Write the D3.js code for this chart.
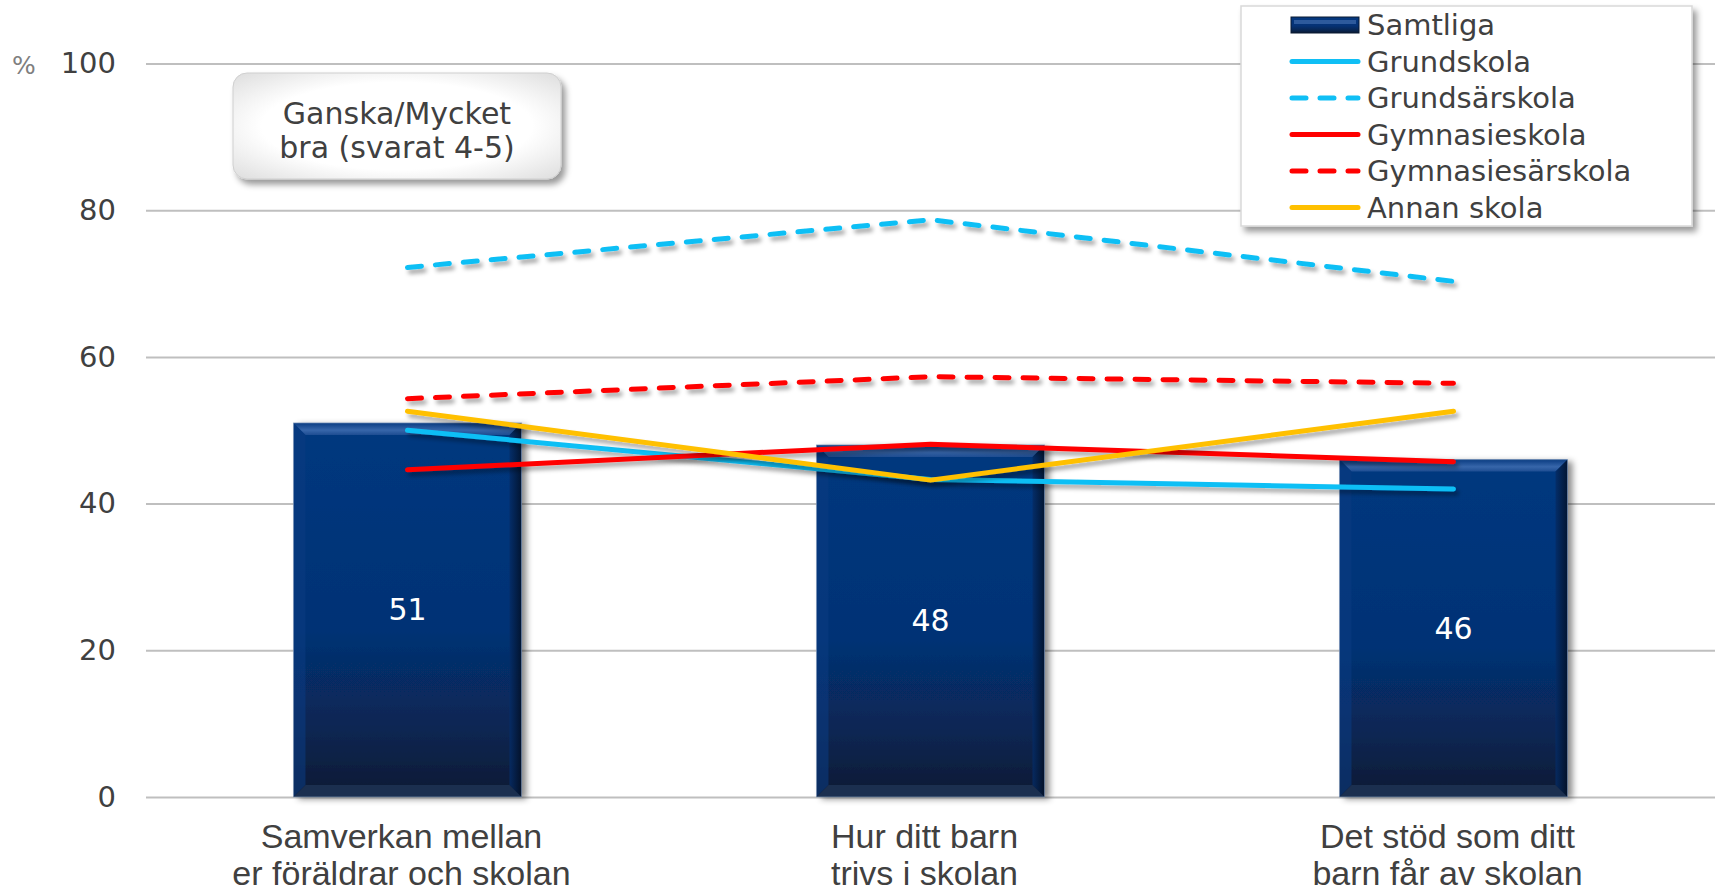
<!DOCTYPE html>
<html>
<head>
<meta charset="utf-8">
<script src="https://cdn.jsdelivr.net/npm/d3@7"></script>
<style>
  body { margin: 0; background: #fff; }
  svg { display: block; font-family: "DejaVu Sans", Verdana, sans-serif; }
</style>
</head>
<body>
<div id="chart"></div>
<script>
// Dades del gràfic
const kategorier = [
  ["Samverkan mellan", "er föräldrar och skolan"],
  ["Hur ditt barn", "trivs i skolan"],
  ["Det stöd som ditt", "barn får av skolan"]
];
const samtliga = [51, 48, 46];
const grundskola = [50.0, 43.3, 42.0];
const grundsarskola = [72.2, 78.7, 70.3];
const gymnasieskola = [44.6, 48.1, 45.7];
const gymnasiesarskola = [54.3, 57.3, 56.4];
const annanSkola = [52.6, 43.2, 52.6];
const yTicks = [0, 20, 40, 60, 80, 100];
const serieNamn = ["Samtliga", "Grundskola", "Grundsärskola", "Gymnasieskola", "Gymnasiesärskola", "Annan skola"];

const linjer = [
  {namn: serieNamn[1], varden: grundskola, farg: "#10bff5", streckad: false},
  {namn: serieNamn[2], varden: grundsarskola, farg: "#10bff5", streckad: true},
  {namn: serieNamn[3], varden: gymnasieskola, farg: "#ff0000", streckad: false},
  {namn: serieNamn[4], varden: gymnasiesarskola, farg: "#ff0000", streckad: true},
  {namn: serieNamn[5], varden: annanSkola, farg: "#ffc000", streckad: false}
];

const W = 1717, H = 892;
const marg = {top: 63.5, left: 146, right: 2, bottom: 95};
const bredd = W - marg.left - marg.right;
const hojd = H - marg.top - marg.bottom;

const svg = d3.select("#chart").append("svg")
  .attr("width", W).attr("height", H);

const defs = svg.append("defs");

// skuggor
const skugga = defs.append("filter").attr("id", "skugga")
  .attr("x", "-10%").attr("y", "-50%").attr("width", "130%").attr("height", "200%");
skugga.append("feDropShadow").attr("dx", 3).attr("dy", 4).attr("stdDeviation", 2.2)
  .attr("flood-color", "#000").attr("flood-opacity", 0.35);

const stapelSkugga = defs.append("filter").attr("id", "stapelSkugga")
  .attr("x", "-10%").attr("y", "-10%").attr("width", "130%").attr("height", "130%");
stapelSkugga.append("feDropShadow").attr("dx", 5).attr("dy", 2).attr("stdDeviation", 3)
  .attr("flood-color", "#000").attr("flood-opacity", 0.45);

const boxSkugga = defs.append("filter").attr("id", "boxSkugga")
  .attr("x", "-10%").attr("y", "-20%").attr("width", "130%").attr("height", "150%");
boxSkugga.append("feDropShadow").attr("dx", 4).attr("dy", 5).attr("stdDeviation", 3)
  .attr("flood-color", "#000").attr("flood-opacity", 0.4);

// gradienter för staplarna
const kropp = defs.append("linearGradient").attr("id", "kropp")
  .attr("x1", 0).attr("y1", 0).attr("x2", 0).attr("y2", 1);
[[0, "#05387f"], [0.55, "#053275"], [0.82, "#082652"], [1, "#0b1a33"]].forEach(([o, c]) =>
  kropp.append("stop").attr("offset", o).attr("stop-color", c));

const topp = defs.append("linearGradient").attr("id", "topp")
  .attr("x1", 0).attr("y1", 0).attr("x2", 0).attr("y2", 1);
[[0, "#0a3c82"], [0.6, "#3766aa"], [1, "#1e4d92"]].forEach(([o, c]) =>
  topp.append("stop").attr("offset", o).attr("stop-color", c));

const hoger = defs.append("linearGradient").attr("id", "hoger")
  .attr("x1", 0).attr("y1", 0).attr("x2", 1).attr("y2", 0);
[[0, "#052c66"], [1, "#020f25"]].forEach(([o, c]) =>
  hoger.append("stop").attr("offset", o).attr("stop-color", c));

const boxFyll = defs.append("radialGradient").attr("id", "boxFyll")
  .attr("cx", "50%").attr("cy", "50%").attr("r", "75%");
[[0.55, "#ffffff"], [1, "#d8d8d8"]].forEach(([o, c]) =>
  boxFyll.append("stop").attr("offset", o).attr("stop-color", c));

const g = svg.append("g").attr("transform", `translate(${marg.left},${marg.top})`);

// skalor
const x = d3.scaleBand().domain(d3.range(kategorier.length)).range([0, bredd]).padding(0);
const y = d3.scaleLinear().domain([0, 100]).range([hojd, 0]);
const mitt = i => x(i) + x.bandwidth() / 2;
const stapelBredd = x.bandwidth() * 0.436;

// Y-axel med rutnät
const yAxel = g.append("g")
  .call(d3.axisLeft(y).tickValues(yTicks).tickSize(-bredd).tickPadding(30));
yAxel.select(".domain").remove();
yAxel.selectAll(".tick line").attr("stroke", "#bfbfbf").attr("stroke-width", 2);
yAxel.selectAll(".tick text").attr("fill", "#404040")
  .style("font-size", "29px").style("font-family", "\"DejaVu Sans\", Verdana, sans-serif");

svg.append("text").attr("x", 12).attr("y", marg.top + 10)
  .attr("fill", "#7f7f7f").style("font-size", "25px").text("%");

// X-axel (kategorietiketter)
const xAxel = g.append("g").attr("transform", `translate(0,${hojd})`)
  .call(d3.axisBottom(x).tickSize(0).tickFormat(""));
xAxel.select(".domain").remove();
xAxel.selectAll(".tick").each(function(i) {
  const t = d3.select(this).append("text")
    .attr("fill", "#404040").attr("text-anchor", "middle")
    .style("font-size", "34px").attr("y", 51);
  kategorier[i].forEach((rad, k) => {
    t.append("tspan").attr("x", -6).attr("dy", k === 0 ? 0 : 37).text(rad);
  });
});

// Staplar (Samtliga)
const staplar = g.selectAll(".stapel").data(samtliga).enter()
  .append("g").attr("class", "stapel");
const b = 12;
staplar.each(function(d, i) {
  const s = d3.select(this);
  const x0 = mitt(i) - stapelBredd / 2, x1 = mitt(i) + stapelBredd / 2;
  const yt = y(d), yb = y(0);
  s.append("rect").attr("x", x0).attr("y", yt).attr("width", stapelBredd).attr("height", yb - yt)
    .attr("fill", "url(#kropp)").attr("filter", "url(#stapelSkugga)");
  s.append("polygon").attr("points", [[x0, yt], [x1, yt], [x1 - b, yt + b], [x0 + b, yt + b]].join(" "))
    .attr("fill", "url(#topp)");
  s.append("polygon").attr("points", [[x1, yt], [x1 - b, yt + b], [x1 - b, yb - b], [x1, yb]].join(" "))
    .attr("fill", "url(#hoger)").attr("opacity", 0.85);
  s.append("polygon").attr("points", [[x0, yt], [x0 + b, yt + b], [x0 + b, yb - b], [x0, yb]].join(" "))
    .attr("fill", "#0a3b80").attr("opacity", 0.6);
  s.append("polygon").attr("points", [[x0, yb], [x1, yb], [x1 - b, yb - b], [x0 + b, yb - b]].join(" "))
    .attr("fill", "#1b2f4f");
  s.append("rect").attr("x", x0).attr("y", yt).attr("width", stapelBredd).attr("height", yb - yt)
    .attr("fill", "none").attr("stroke", "#8ea3c2").attr("stroke-width", 1).attr("opacity", 0.6);
});

// etiketter i staplarna
g.selectAll(".etikett").data(samtliga).enter()
  .append("text").attr("class", "etikett")
  .attr("x", (d, i) => mitt(i))
  .attr("y", d => y(d / 2))
  .attr("dy", "0.35em")
  .attr("text-anchor", "middle")
  .attr("fill", "#fff")
  .style("font-size", "30px")
  .text(d => d);

// Linjer
const linje = d3.line().x((d, i) => mitt(i)).y(d => y(d));
g.selectAll(".linje").data(linjer).enter()
  .append("path").attr("class", "linje")
  .attr("d", d => linje(d.varden))
  .attr("fill", "none")
  .attr("stroke", d => d.farg)
  .attr("stroke-width", 5)
  .attr("stroke-linecap", "round")
  .attr("stroke-linejoin", "round")
  .attr("stroke-dasharray", d => d.streckad ? "14,14" : null)
  .attr("filter", "url(#skugga)");

// Textruta
const ruta = svg.append("g");
ruta.append("rect").attr("x", 233).attr("y", 73).attr("width", 328).attr("height", 106)
  .attr("rx", 14).attr("fill", "url(#boxFyll)").attr("stroke", "#cfcfcf")
  .attr("filter", "url(#boxSkugga)");
ruta.append("text").attr("x", 397).attr("y", 124).attr("text-anchor", "middle")
  .attr("fill", "#404040").style("font-size", "30px").text("Ganska/Mycket");
ruta.append("text").attr("x", 397).attr("y", 158).attr("text-anchor", "middle")
  .attr("fill", "#404040").style("font-size", "30px").text("bra (svarat 4-5)");

// Förklaring
const leg = svg.append("g");
leg.append("rect").attr("x", 1241).attr("y", 6).attr("width", 451).attr("height", 220)
  .attr("fill", "#fff").attr("stroke", "#d9d9d9").attr("stroke-width", 1.5)
  .attr("filter", "url(#boxSkugga)");
const radY = k => 25 + k * 36.5;
leg.append("rect").attr("x", 1291).attr("y", radY(0) - 8).attr("width", 68).attr("height", 16)
  .attr("fill", "url(#kropp)").attr("stroke", "#0b1a33").attr("stroke-width", 1);
leg.append("rect").attr("x", 1294).attr("y", radY(0) - 5).attr("width", 62).attr("height", 4)
  .attr("fill", "#2d5a9c");
leg.selectAll(".legLinje").data(linjer).enter()
  .append("line").attr("class", "legLinje")
  .attr("x1", 1292).attr("x2", 1358)
  .attr("y1", (d, i) => radY(i + 1)).attr("y2", (d, i) => radY(i + 1))
  .attr("stroke", d => d.farg).attr("stroke-width", 5)
  .attr("stroke-linecap", "round")
  .attr("stroke-dasharray", d => d.streckad ? "14,14" : null);
leg.selectAll(".legText").data(serieNamn).enter()
  .append("text").attr("class", "legText")
  .attr("x", 1367).attr("y", (d, i) => radY(i)).attr("dy", "0.36em")
  .attr("fill", "#404040").style("font-size", "29px").text(d => d);
</script>
</body>
</html>
